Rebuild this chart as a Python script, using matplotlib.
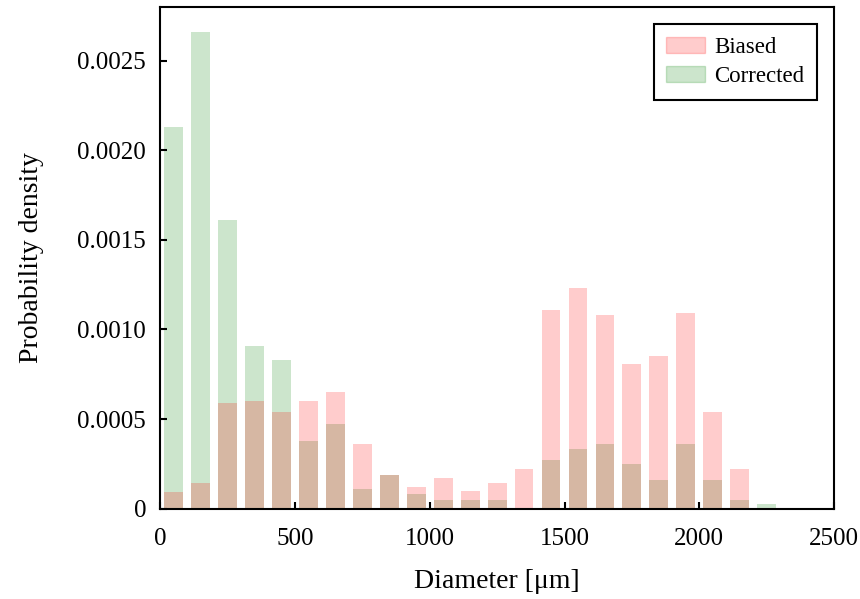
import matplotlib
matplotlib.use("Agg")
import matplotlib.pyplot as plt
from matplotlib.patches import Patch

plt.rcParams['font.family'] = ['Liberation Serif', 'DejaVu Serif']

# bin centres (um) and density per bin
diameters = [50, 150, 250, 350, 450, 550, 650, 750, 850, 950, 1050, 1150,
             1250, 1350, 1450, 1550, 1650, 1750, 1850, 1950, 2050, 2150, 2250]
biased = [0.00009, 0.00014, 0.00059, 0.00060, 0.00054, 0.00060, 0.00065,
          0.00036, 0.00019, 0.00012, 0.00017, 0.00010, 0.00014, 0.00022,
          0.00111, 0.00123, 0.00108, 0.00081, 0.00085, 0.00109, 0.00054,
          0.00022, 0.000005]
corrected = [0.00213, 0.00266, 0.00161, 0.00091, 0.00083, 0.00038, 0.00047,
             0.00011, 0.00019, 0.00008, 0.00005, 0.00005, 0.00005, 0.0,
             0.00027, 0.00033, 0.00036, 0.00025, 0.00016, 0.00036, 0.00016,
             0.00005, 0.000025]

fig = plt.figure(figsize=(8.6, 5.99), dpi=100)
ax = fig.add_axes([0.186, 0.151, 0.784, 0.837])

ax.bar(diameters, corrected, width=70, color='green', alpha=0.2)
ax.bar(diameters, biased, width=70, color='red', alpha=0.2)

ax.set_xlim(0, 2500)
ax.set_ylim(0, 0.0028)
ax.set_xticks([0, 500, 1000, 1500, 2000, 2500])
ax.set_yticks([0, 0.0005, 0.001, 0.0015, 0.002, 0.0025])
ax.set_yticklabels(['0', '0.0005', '0.0010', '0.0015', '0.0020', '0.0025'])
ax.tick_params(direction='in', length=5, width=1.5, labelsize=18)
ax.tick_params(axis='y', pad=10)
ax.tick_params(axis='x', pad=14)
for s in ax.spines.values():
    s.set_linewidth(1.5)

ax.set_xlabel('Diameter [μm]', fontsize=20, labelpad=14)
ax.set_ylabel('Probability density', fontsize=20, labelpad=24)

handles = [Patch(color='red', alpha=0.2), Patch(color='green', alpha=0.2)]
leg = ax.legend(handles, ['Biased', 'Corrected'], loc='upper right',
                fontsize=16.5, fancybox=False, framealpha=1, edgecolor='black',
                borderaxespad=0.75, borderpad=0.55, labelspacing=0.35,
                handlelength=1.7, handleheight=0.65, handletextpad=0.4)
leg.get_frame().set_linewidth(1.5)

fig.savefig('out.png', dpi=100)
